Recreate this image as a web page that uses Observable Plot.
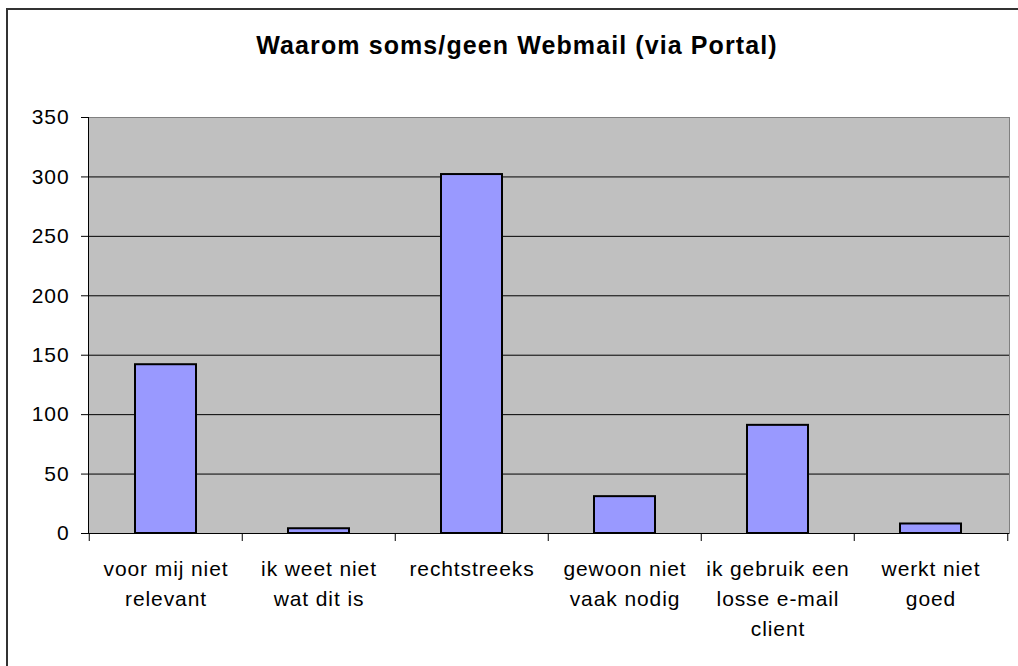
<!DOCTYPE html>
<html><head><meta charset="utf-8">
<script src="https://cdn.jsdelivr.net/npm/d3@7"></script>
<script src="https://cdn.jsdelivr.net/npm/@observablehq/plot@0.6"></script>
<style>
body{margin:0;background:#fff;}
#wrap{position:relative;width:1018px;height:666px;overflow:hidden;font-family:"Liberation Sans",Arial,sans-serif;background:#fff;}
#frame{position:absolute;left:6px;top:8px;width:1100px;height:700px;border-left:2px solid #333;border-top:2px solid #333;}
#chart{position:absolute;left:0;top:0;}
#title{position:absolute;left:0;width:1034px;top:31px;text-align:center;font-weight:bold;font-size:25px;letter-spacing:1.1px;color:#000;}
</style></head>
<body><div id="wrap"><div id="frame"></div><div id="chart"></div><div id="title">Waarom soms/geen Webmail (via Portal)</div></div>
<script>
const categories = [
  "voor mij niet\nrelevant",
  "ik weet niet\nwat dit is",
  "rechtstreeks",
  "gewoon niet\nvaak nodig",
  "ik gebruik een\nlosse e-mail\nclient",
  "werkt niet\ngoed"
];
const values = [142, 4, 302, 31, 91, 8];
const yTicks = [0, 50, 100, 150, 200, 250, 300, 350];
const gridTicks = [50, 100, 150, 200, 250, 300];

const data = categories.map((c, i) => ({cat: c, value: values[i]}));

const W = 1018, H = 666, ML = 88, MR = 9, MT = 117, MB = 133;
const step = (W - ML - MR) / categories.length;

const chart = Plot.plot({
  width: W, height: H,
  marginLeft: ML, marginRight: MR, marginTop: MT, marginBottom: MB,
  style: {fontFamily: '"Liberation Sans", Arial, sans-serif', fontSize: "21px", letterSpacing: "0.9px", color: "black", background: "transparent", overflow: "visible"},
  x: {domain: categories, paddingInner: 0.6, paddingOuter: 0.3, label: null},
  y: {domain: [0, 350], label: null},
  marks: [
    Plot.frame({fill: "#c0c0c0", stroke: "#808080"}),
    Plot.gridY(gridTicks, {stroke: "black", strokeOpacity: 1}),
    Plot.barY(data, {x: "cat", y: "value", fill: "#9999ff", stroke: "black", strokeWidth: 2}),
    Plot.frame({anchor: "left", stroke: "black"}),
    Plot.ruleY([0], {stroke: "black"}),
    Plot.ruleX(categories, {x: d => d, dx: -step / 2, y1: 0, y2: 0, insetBottom: -8, stroke: "black"}),
    Plot.ruleX([categories[categories.length - 1]], {x: d => d, dx: step / 2, y1: 0, y2: 0, insetBottom: -8, stroke: "black"}),
    Plot.axisY({ticks: yTicks, tickSize: 7, tickPadding: 12, stroke: "black", fill: "black", fontSize: 21}),
    Plot.axisX({tickSize: 0, tickPadding: 21, fill: "black", fontSize: 21, lineHeight: 1.43})
  ]
});
document.getElementById("chart").appendChild(chart);
</script>
</body></html>
